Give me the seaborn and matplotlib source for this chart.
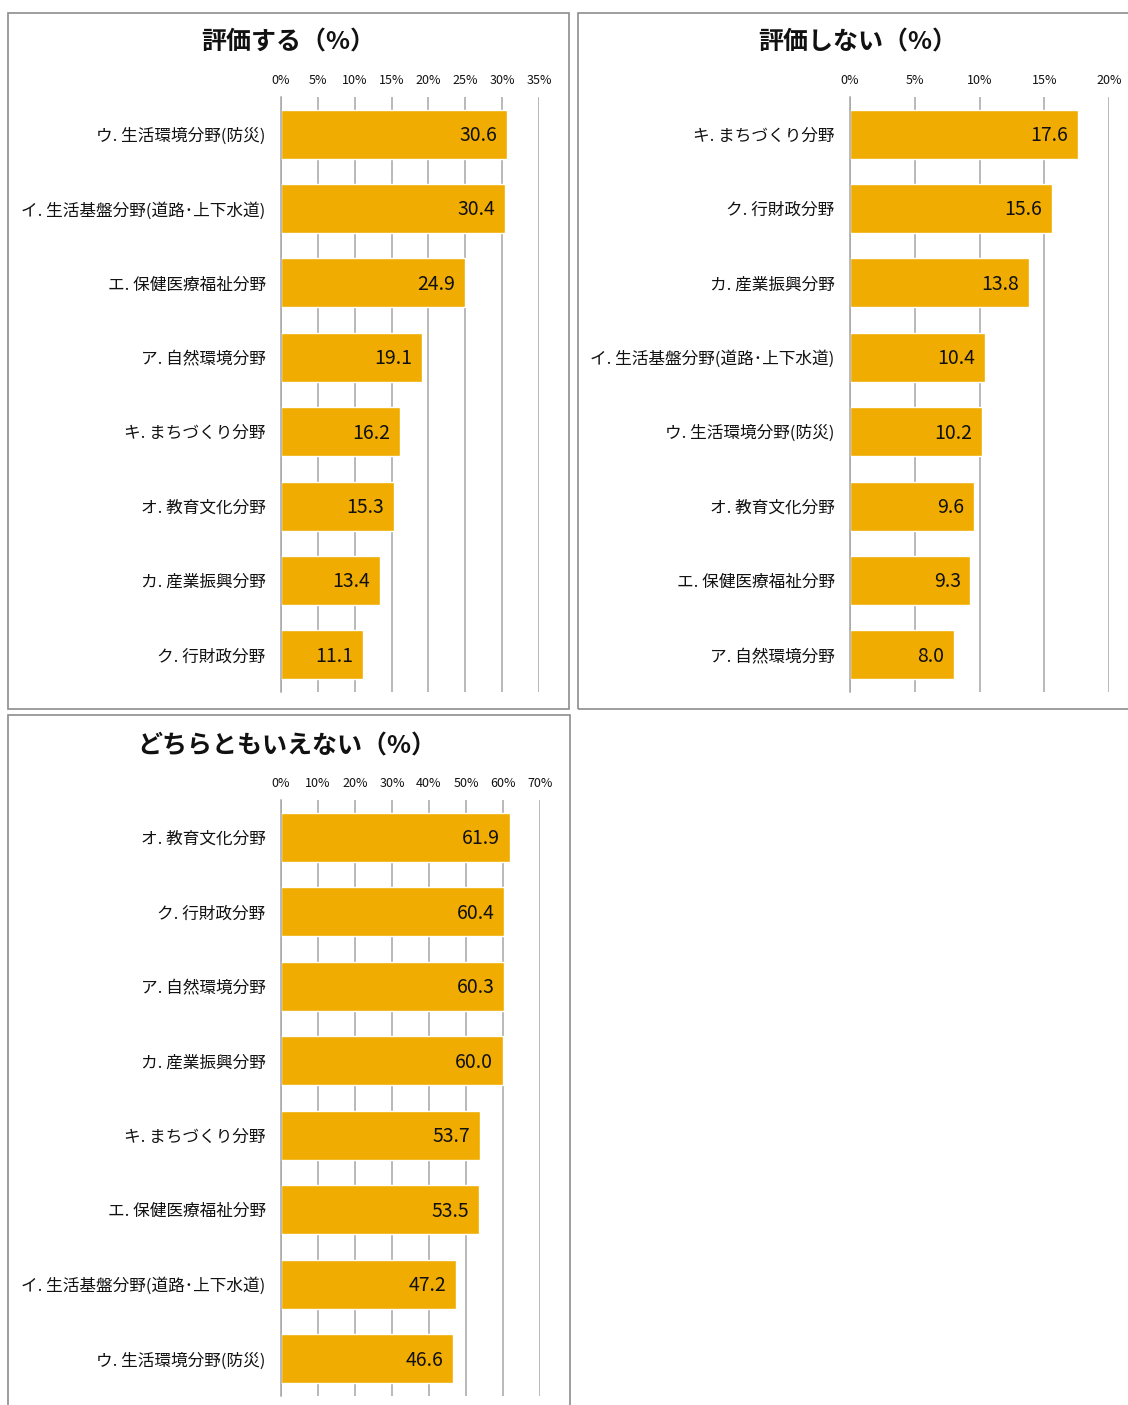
import numpy as np
import pandas as pd
import matplotlib
matplotlib.use("Agg")
import matplotlib.pyplot as plt
import seaborn as sns
from matplotlib.patches import Rectangle
from matplotlib.ticker import FixedLocator, PercentFormatter

# data
labels_eval = ["ウ. 生活環境分野(防災)", "イ. 生活基盤分野(道路･上下水道)", "エ. 保健医療福祉分野",
               "ア. 自然環境分野", "キ. まちづくり分野", "オ. 教育文化分野", "カ. 産業振興分野", "ク. 行財政分野"]
values_eval = [30.6, 30.4, 24.9, 19.1, 16.2, 15.3, 13.4, 11.1]

labels_noeval = ["キ. まちづくり分野", "ク. 行財政分野", "カ. 産業振興分野", "イ. 生活基盤分野(道路･上下水道)",
                 "ウ. 生活環境分野(防災)", "オ. 教育文化分野", "エ. 保健医療福祉分野", "ア. 自然環境分野"]
values_noeval = [17.6, 15.6, 13.8, 10.4, 10.2, 9.6, 9.3, 8.0]

labels_neutral = ["オ. 教育文化分野", "ク. 行財政分野", "ア. 自然環境分野", "カ. 産業振興分野",
                  "キ. まちづくり分野", "エ. 保健医療福祉分野", "イ. 生活基盤分野(道路･上下水道)", "ウ. 生活環境分野(防災)"]
values_neutral = [61.9, 60.4, 60.3, 60.0, 53.7, 53.5, 47.2, 46.6]

titles = ["評価する（%）", "評価しない（%）", "どちらともいえない（%）"]
xmax = [35, 20, 70]
xstep = [5, 5, 10]

sns.set_theme(style="white")
plt.rcParams['font.family'] = ['Noto Sans CJK JP', 'DejaVu Sans']

W, H = 1128, 1405
fig = plt.figure(figsize=(W / 100, H / 100), dpi=100)

BAR = "#F0AC00"
GRID = "#A6A6A6"


def px_box(x0, y0, x1, y1):
    return [x0 / W, 1 - y1 / H, (x1 - x0) / W, (y1 - y0) / H]


def draw_panel(axbox, frame, title_xy, title, labels, values, vmax, step):
    # frame around the panel
    fx0, fy0, fx1, fy1 = frame
    fig.add_artist(Rectangle((fx0 / W, 1 - fy1 / H), (fx1 - fx0) / W, (fy1 - fy0) / H,
                             transform=fig.transFigure, fill=False, edgecolor="#8C8C8C", lw=1.2))
    fig.text(title_xy[0] / W, 1 - title_xy[1] / H, title, ha="center", va="center",
             fontsize=18, fontweight="bold", color="#111111")

    ax = fig.add_axes(px_box(*axbox))
    df = pd.DataFrame({"label": labels, "value": values})
    sns.barplot(data=df, x="value", y="label", color=BAR, saturation=1, width=0.66, ax=ax)
    ax.set_xlim(0, vmax)
    ax.set_ylim(len(labels) - 0.5, -0.5)
    ax.set_xlabel("")
    ax.set_ylabel("")

    ax.xaxis.tick_top()
    ax.set_xticks(np.arange(0, vmax + 0.1, step))
    ax.xaxis.set_major_formatter(PercentFormatter(decimals=0))
    ax.tick_params(axis="x", length=0, pad=7, labelsize=9, labelcolor="#111111")
    ax.grid(axis="x", color=GRID, lw=1.1)
    ax.set_axisbelow(True)

    ax.tick_params(axis="y", which="major", length=0, pad=11, labelsize=12, labelcolor="#111111")
    ax.yaxis.set_minor_locator(FixedLocator(np.arange(-0.5, len(labels), 1)))
    ax.tick_params(axis="y", which="minor", length=5, width=1, color=GRID, direction="out")

    for s in ["top", "right", "bottom"]:
        ax.spines[s].set_visible(False)
    ax.spines["left"].set_color(GRID)
    ax.spines["left"].set_linewidth(1.1)

    for i, v in enumerate(values):
        ax.annotate(f"{v:.1f}", (v, i), xytext=(-7, -1), textcoords="offset points",
                    ha="right", va="center", fontsize=14, color="#111111")
    return ax


draw_panel((281, 97, 539, 692), (8, 13, 569, 709), (288, 43), titles[0],
           labels_eval, values_eval, xmax[0], xstep[0])
draw_panel((850, 97, 1109, 692), (578, 13, 1140, 709), (858, 43), titles[1],
           labels_noeval, values_noeval, xmax[1], xstep[1])
draw_panel((281, 800, 540, 1396), (8, 715, 570, 1420), (287, 746), titles[2],
           labels_neutral, values_neutral, xmax[2], xstep[2])

fig.savefig("out.png", dpi=100)
